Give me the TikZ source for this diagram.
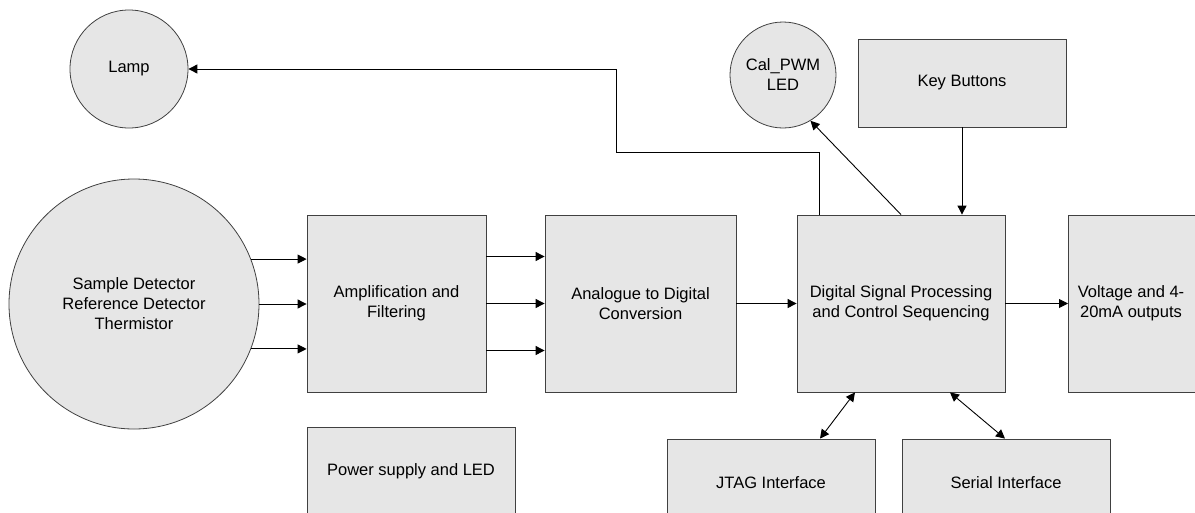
\documentclass[tikz,border=0pt]{standalone}
\usepackage{fontspec}
\setmainfont{Liberation Sans}
\usetikzlibrary{arrows.meta,calc}
\definecolor{boxfill}{HTML}{E6E6E6}
\definecolor{boxline}{HTML}{404040}
\begin{document}
\begin{tikzpicture}[x=1pt,y=-1pt,
  font=\fontsize{16.5}{20}\selectfont,
  box/.style={draw=boxline, fill=boxfill, line width=0.8pt, rectangle, align=center, inner sep=0pt},
  ball/.style={draw=boxline, fill=boxfill, line width=0.8pt, circle, align=center, inner sep=0pt},
  arr/.style={line width=0.9pt, -{Triangle[length=9pt,width=9pt]}},
  darr/.style={line width=0.9pt, {Triangle[length=9pt,width=9pt]}-{Triangle[length=9pt,width=9pt]}}]
\useasboundingbox (0,0) rectangle (1195,512);
\clip (0,0) rectangle (1195,512);

% circles
\node[ball, minimum size=118pt] (lamp) at (129,69) {Lamp};
\node[ball, minimum size=106pt] (cal) at (783,75) {Cal\_PWM\\LED};
\node[ball, minimum size=250pt] (det) at (134,304) {Sample Detector\\Reference Detector\\Thermistor};

% boxes
\node[box, minimum width=208pt, minimum height=88pt] (key) at (962,83) {Key Buttons};
\node[box, minimum width=179pt, minimum height=177pt] (amp) at (396.5,303.5) {Amplification and\\Filtering};
\node[box, minimum width=191pt, minimum height=177pt] (adc) at (640.5,303.5) {Analogue to Digital\\Conversion};
\node[box, minimum width=208pt, minimum height=177pt] (dsp) at (901,303.5) {Digital Signal Processing\\and Control Sequencing};
\node[box, minimum width=208pt, minimum height=177pt, anchor=west] (volt) at (1068,303.5) {};
\node[align=center, inner sep=0pt] (volttext) at (1131,303.5) {Voltage and 4-\\20mA outputs};
\node[box, minimum width=208pt, minimum height=88pt] (pwr) at (411,471) {Power supply and LED};
\node[box, minimum width=208pt, minimum height=88pt] (jtag) at (771,483) {JTAG Interface};
\node[box, minimum width=208pt, minimum height=88pt] (ser) at (1006,483) {Serial Interface};

% detector -> amplification
\draw[arr] (det.21) -- (det.21 -| amp.west);
\draw[arr] (det.0) -- (det.0 -| amp.west);
\draw[arr] (det.-21) -- (det.-21 -| amp.west);

% amplification -> ADC
\draw[arr] ([yshift=47pt]amp.east) -- ([yshift=47pt]adc.west);
\draw[arr] (amp.east) -- (adc.west);
\draw[arr] ([yshift=-47pt]amp.east) -- ([yshift=-47pt]adc.west);

% ADC -> DSP -> outputs
\draw[arr] (adc.east) -- (dsp.west);
\draw[arr] (dsp.east) -- (volt.west);

% key buttons -> DSP
\draw[arr] (key.south) -- (key.south |- dsp.north);

% DSP -> Cal LED
\draw[arr] (dsp.north) -- (cal.-59);

% DSP -> Lamp
\coordinate (lampsrc) at ([xshift=-82pt]dsp.north);
\coordinate (bend) at (616,152);
\draw[arr] (lampsrc) |- (bend) |- (lamp.east);

% DSP <-> interfaces
\draw[darr] ([xshift=-46pt]dsp.south) -- ([xshift=49pt]jtag.north);
\draw[darr] ([xshift=49pt]dsp.south) -- ([xshift=-1pt]ser.north);
\end{tikzpicture}
\end{document}
